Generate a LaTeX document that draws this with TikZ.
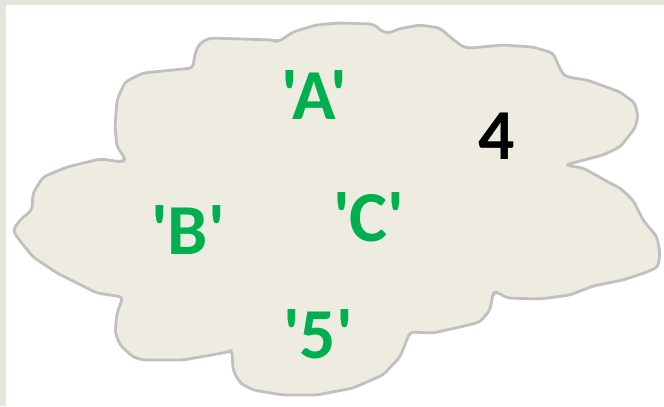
\documentclass[tikz,border=0pt]{standalone}
\usepackage{fontspec}
\newfontfamily\cf{Carlito}[Ligatures=TeXOff]
\definecolor{cloudfill}{HTML}{EEECE1}
\definecolor{cloudline}{HTML}{C0C0C0}
\definecolor{txtgreen}{HTML}{00B050}
\definecolor{edgestrip}{HTML}{E4E4DC}
\tikzset{
  cloudshape/.style={fill=cloudfill, draw=cloudline, line width=2.8bp, rounded corners=4bp, line join=round},
  lbl/.style={inner sep=0pt, font=\cf\bfseries\fontsize{72}{72}\selectfont, text=txtgreen},
  numlbl/.style={lbl, text=black}
}
\begin{document}
\begin{tikzpicture}[x=1bp,y=-1bp]
\useasboundingbox (0,0) rectangle (664,406);
\fill[white] (0,0) rectangle (664,406);
\fill[edgestrip] (0,0) rectangle (664,5);
\fill[edgestrip] (0,0) rectangle (6,406);
\draw[cloudshape] (123,297) -- (97,293) -- (77,283) -- (57,273) -- (33,257) -- (17,237) -- (13,230) -- (20,220) -- (32,210) -- (33,193) -- (43,177) -- (67,167) -- (100,159) -- (123,162) -- (125,158) -- (117,147) -- (115,127) -- (117,100) -- (125,82) -- (143,73) -- (193,68) -- (195,53) -- (200,43) -- (210,38) -- (273,40) -- (278,42) -- (293,32) -- (316,25) -- (339,23) -- (373,24) -- (383,32) -- (390,33) -- (398,29) -- (420,25) -- (440,28) -- (450,37) -- (463,47) -- (470,48) -- (503,45) -- (533,47) -- (553,53) -- (562,73) -- (567,77) -- (587,80) -- (620,92) -- (635,103) -- (638,117) -- (635,128) -- (620,147) -- (603,155) -- (565,165) -- (583,168) -- (610,183) -- (620,188) -- (633,200) -- (643,220) -- (657,237) -- (660,253) -- (658,267) -- (647,272) -- (623,280) -- (593,286) -- (570,295) -- (540,299) -- (507,298) -- (497,292) -- (493,293) -- (490,310) -- (480,322) -- (460,327) -- (433,333) -- (410,332) -- (400,357) -- (383,375) -- (353,388) -- (317,395) -- (283,395) -- (253,390) -- (240,383) -- (233,370) -- (232,350) -- (228,352) -- (183,360) -- (143,360) -- (133,357) -- (120,345) -- (115,332) -- (117,313) -- cycle;
\node[lbl] (a) at (314,95) {'A'};
\node[lbl] (b) at (188,230) {'B'};
\node[lbl] (c) at (369,217) {'C'};
\node[lbl] (five) at (318,334) {'5'};
\node[numlbl] (four) at (497,136) {4};
\end{tikzpicture}
\end{document}
